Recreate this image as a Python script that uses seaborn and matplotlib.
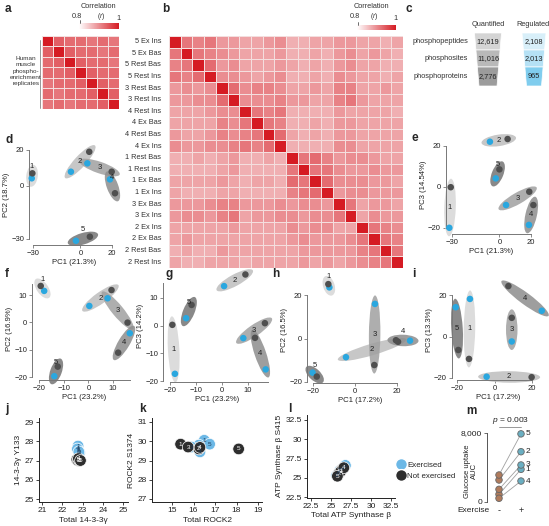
import numpy as np
import pandas as pd
import matplotlib
matplotlib.use("Agg")
import matplotlib.pyplot as plt
import seaborn as sns
from matplotlib.patches import Ellipse, Polygon
from matplotlib.colors import LinearSegmentedColormap, Normalize
from matplotlib.cm import ScalarMappable
from matplotlib.transforms import IdentityTransform
from matplotlib.lines import Line2D

# ---------------- data ----------------
# a: replicate correlation (hundredths, lower triangle)
a_lower = [
    [100],
    [94, 100],
    [93, 94, 100],
    [93, 93, 94, 100],
    [92, 93, 93, 94, 100],
    [93, 92, 93, 93, 94, 100],
    [92, 93, 92, 93, 93, 94, 100],
]

# b: sample correlation (hundredths, lower triangle)
b_labels = ["5 Ex Ins", "5 Ex Bas", "5 Rest Bas", "5 Rest Ins", "3 Rest Bas", "3 Rest Ins",
            "4 Rest Ins", "4 Ex Bas", "4 Rest Bas", "4 Ex Ins", "1 Rest Bas", "1 Rest Ins",
            "1 Ex Bas", "1 Ex Ins", "3 Ex Bas", "3 Ex Ins", "2 Ex Ins", "2 Ex Bas",
            "2 Rest Bas", "2 Rest Ins"]
b_lower = [
    [100],
    [92, 100],
    [91, 92, 100],
    [92, 91, 93, 100],
    [89, 90, 89, 90, 100],
    [89, 89, 90, 90, 93, 100],
    [88, 88, 88, 89, 90, 90, 100],
    [88, 88, 88, 88, 91, 90, 92, 100],
    [89, 88, 88, 89, 91, 90, 91, 92, 100],
    [90, 89, 89, 90, 90, 91, 92, 91, 93, 100],
    [87, 87, 88, 87, 88, 89, 87, 87, 88, 87, 100],
    [87, 87, 87, 87, 88, 89, 87, 87, 87, 87, 92, 100],
    [88, 88, 88, 88, 89, 88, 87, 88, 88, 87, 93, 92, 100],
    [88, 87, 87, 87, 88, 88, 87, 87, 87, 87, 91, 92, 93, 100],
    [89, 89, 89, 90, 91, 91, 89, 89, 89, 90, 89, 90, 90, 89, 100],
    [89, 90, 90, 89, 91, 92, 88, 89, 89, 90, 90, 89, 90, 90, 92, 100],
    [88, 88, 88, 88, 88, 89, 88, 88, 88, 88, 90, 89, 90, 90, 88, 88, 100],
    [88, 89, 88, 88, 88, 88, 88, 88, 88, 88, 89, 90, 89, 89, 89, 90, 92, 100],
    [87, 88, 87, 87, 89, 88, 88, 88, 88, 88, 88, 89, 89, 89, 89, 89, 91, 92, 100],
    [88, 87, 87, 88, 88, 88, 87, 88, 88, 88, 88, 89, 88, 89, 88, 89, 90, 91, 92, 100],
]

# c: counts
c_rows = ["phosphopeptides", "phosphosites", "phosphoproteins"]
c_quant = ["12,619", "11,016", "2,776"]
c_reg = ["2,108", "2,013", "965"]

subjects = [1, 2, 3, 4, 5]
# PCA panels: exercised (blue) and not exercised (dark) per subject 1..5
d_ex_x = [-30.8, -6.0, 4.4, 18.7, -2.8]
d_ex_y = [4.1, 7.8, 12.5, 3.5, -31.0]
d_no_x = [-30.4, 5.6, 19.8, 21.9, 6.0]
d_no_y = [6.9, 19.0, 7.8, -4.3, -28.7]

e_ex_x = [-31.7, -6.0, 4.2, 18.7, -2.3]
e_ex_y = [-19.9, 22.1, -8.8, -18.5, 4.2]
e_no_x = [-30.8, 5.2, 18.9, 21.5, 0.0]
e_no_y = [-0.1, 23.4, -2.3, -8.8, 8.6]

f_ex_x = [-17.9, 0.4, 7.8, 16.8, -13.8]
f_ex_y = [11.5, 6.0, 8.8, -4.0, -19.7]
f_no_x = [-19.3, 9.4, 15.9, 12.1, -12.4]
f_no_y = [13.3, 11.8, -0.1, -11.1, -16.2]

g_ex_x = [-18.1, 0.8, 8.2, 16.8, -13.8]
g_ex_y = [-17.4, 14.3, -4.5, -15.8, 2.7]
g_no_x = [-19.1, 9.0, 16.5, 12.7, -11.7]
g_no_y = [0.3, 18.5, 0.9, -4.4, 7.5]

h_ex_x = [-12.2, -4.3, 9.5, 26.2, -20.2]
h_ex_y = [23.5, -8.6, 15.9, -1.0, -15.7]
h_no_x = [-12.7, 20.5, 9.2, 19.5, -18.2]
h_no_y = [25.0, -1.5, -12.2, -0.8, -17.5]

i_ex_x = [-13.1, -4.2, 9.2, 25.2, -20.7]
i_ex_y = [18.1, -19.4, -2.4, 12.4, 14.1]
i_no_x = [-13.6, 19.8, 9.2, 7.4, -19.3]
i_no_y = [-10.8, -19.6, 9.0, 24.3, -6.5]

# j, k, l: total vs phospho
j_ex_x = [22.78, 22.80, 22.85, 22.75, 22.82]
j_ex_y = [27.75, 27.50, 27.40, 27.60, 27.45]
j_no_x = [22.72, 22.78, 22.85, 22.80, 22.90]
j_no_y = [27.05, 27.00, 27.00, 27.10, 27.00]

k_ex_x = [16.50, 16.25, 15.90, 16.30, 16.75]
k_ex_y = [30.05, 29.80, 29.70, 29.45, 29.85]
k_no_x = [15.40, 16.25, 15.75, 16.30, 18.10]
k_no_y = [29.85, 29.60, 29.70, 29.68, 29.60]

l_ex_x = [26.8, 26.1, 25.7, 26.5, 25.9]
l_ex_y = [26.6, 25.9, 25.3, 26.2, 25.5]
l_no_x = [26.3, 26.0, 26.2, 26.6, 25.8]
l_no_y = [26.0, 25.6, 25.8, 26.3, 25.2]

# m: glucose uptake AUC
m_pre = [890, 2550, 1470, 430, 3130]
m_post = [3790, 5830, 4290, 2430, 7900]

# ---------------- style ----------------
W, H = 549, 526
sns.set_style("ticks")
plt.rcParams["font.family"] = ["Liberation Sans", "DejaVu Sans"]
plt.rcParams["mathtext.fontset"] = "custom"
plt.rcParams["mathtext.it"] = "Liberation Sans:italic"
plt.rcParams["mathtext.rm"] = "Liberation Sans"

blue = "#2aa7df"
dark = "#4f4f4f"
ell_colors = ["#d6d6d6", "#bdbdbd", "#a0a0a0", "#8d8d8d", "#747474"]
cmap = LinearSegmentedColormap.from_list("wr", ["#ffffff", "#d51b23"])

fig = plt.figure(figsize=(W / 100, H / 100), dpi=100)


def px(l, t, r, b):
    return [l / W, 1 - b / H, (r - l) / W, (b - t) / H]


def box_from(xa, ya, xlim, ylim):
    sx = (xa[3] - xa[1]) / (xa[2] - xa[0])
    sy = (ya[3] - ya[1]) / (ya[2] - ya[0])
    l = xa[1] + (xlim[0] - xa[0]) * sx
    r = xa[1] + (xlim[1] - xa[0]) * sx
    t = ya[1] + (ylim[1] - ya[0]) * sy
    b = ya[1] + (ylim[0] - ya[0]) * sy
    return px(l, t, r, b)


def full(lower):
    n = len(lower)
    m = np.zeros((n, n))
    for i, row in enumerate(lower):
        for j, v in enumerate(row):
            m[i, j] = v / 100
            m[j, i] = v / 100
    return m


def letter(x, y, s):
    fig.text(x / W, 1 - y / H, s, fontsize=8.5, fontweight="bold", va="top", ha="left")


def corr_bar(l, t, r, b, cx, ty):
    cax = fig.add_axes(px(l, t, r, b))
    cb = fig.colorbar(ScalarMappable(norm=Normalize(0.8, 1), cmap=cmap), cax=cax,
                      orientation="horizontal")
    cb.outline.set_visible(False)
    cax.set_xticks([])
    fig.text(cx / W, 1 - ty / H, "Correlation", fontsize=5.3, ha="center", va="center", color="#333")
    fig.text((cx + 3) / W, 1 - (ty + 9) / H, "($r$)", fontsize=5, ha="center", va="center", color="#333")
    fig.text((l - 2) / W, 1 - (ty + 10) / H, "0.8", fontsize=5.3, ha="center", va="center", color="#333")
    fig.text((r - 1) / W, 1 - (ty + 12) / H, "1", fontsize=5.3, ha="center", va="center", color="#333")
    fig.add_artist(Line2D([(l + 1) / W, (l + 1) / W], [1 - (t - 3) / H, 1 - t / H], color="#333", lw=0.5))


# ---------------- a ----------------
letter(5, 3, "a")
ax_a = fig.add_axes(px(42, 36, 119, 109))
sns.heatmap(full(a_lower), ax=ax_a, cmap=cmap, vmin=0.8, vmax=1, cbar=False,
            linewidths=0.6, linecolor="#f4dede", xticklabels=False, yticklabels=False)
corr_bar(79, 23, 119, 29, 98, 7)
fig.add_artist(Line2D([40 / W, 40 / W], [1 - 40 / H, 1 - 108 / H], color="#888", lw=0.6))
fig.text(26 / W, 1 - 71 / H, "Human\nmuscle\nphospho-\nenrichment\nreplicates", fontsize=4.6,
         ha="center", va="center", linespacing=1.35, color="#333")

# ---------------- b ----------------
letter(162, 3, "b")
ax_b = fig.add_axes(px(169, 36, 403, 268))
sns.heatmap(full(b_lower), ax=ax_b, cmap=cmap, vmin=0.8, vmax=1, cbar=False,
            linewidths=0.5, linecolor="#f4dede", xticklabels=False, yticklabels=b_labels)
ax_b.tick_params(left=False, labelsize=5.3, pad=2, labelcolor="#333")
ax_b.set_yticklabels(b_labels, rotation=0)
corr_bar(357, 25, 396, 30, 371, 7)

# ---------------- c ----------------
letter(405, 3, "c")
ax_c = fig.add_axes(px(400, 0, 549, 140))
ax_c.set_xlim(400, 549)
ax_c.set_ylim(140, 0)
ax_c.axis("off")
tops = [33, 50, 67]
bots = [50, 67, 86]
q_cols = ["#d4d4d4", "#b9b9b9", "#9c9c9c"]
r_cols = ["#d8eff9", "#b5e1f5", "#80cdee"]


def hw(y, w0):
    return w0 - (y - 33) / 53 * 4.5


for k in range(3):
    t, b = tops[k], bots[k]
    for cx, w0, col in [(488, 13.5, q_cols[k]), (534, 12, r_cols[k])]:
        ax_c.add_patch(Polygon([[cx - hw(t, w0), t], [cx + hw(t, w0), t],
                                [cx + hw(b, w0), b], [cx - hw(b, w0), b]],
                               closed=True, facecolor=col, edgecolor="white", lw=0.5))
    yc = (t + b) / 2
    ax_c.text(468, yc, c_rows[k], fontsize=5.3, ha="right", va="center", color="#333")
    ax_c.text(488, yc, c_quant[k], fontsize=5.3, ha="center", va="center", color="#222")
    ax_c.text(534, yc, c_reg[k], fontsize=5.3, ha="center", va="center", color="#222")
ax_c.text(488, 24, "Quantified", fontsize=5.3, ha="center", va="center", color="#333")
ax_c.text(533, 24, "Regulated", fontsize=5.3, ha="center", va="center", color="#333")


# ---------------- PCA panels ----------------
def pca_panel(xa, ya, xlim, ylim, xb, yb, xticks, yticks, ex_x, ex_y, no_x, no_y, xlabel, ylabel):
    ax = fig.add_axes(box_from(xa, ya, xlim, ylim))
    ax.set_xlim(xlim)
    ax.set_ylim(ylim)
    for s in range(5):
        p1 = ax.transData.transform((ex_x[s], ex_y[s]))
        p2 = ax.transData.transform((no_x[s], no_y[s]))
        c = (p1 + p2) / 2
        dx, dy = p2 - p1
        dist = np.hypot(dx, dy)
        ang = np.degrees(np.arctan2(dy, dx))
        ax.add_patch(Ellipse(c, width=dist + 17, height=11.5, angle=ang, transform=IdentityTransform(),
                             facecolor=ell_colors[s], edgecolor="none", alpha=0.85, zorder=1,
                             clip_on=False))
        lab = c.copy()
        if dist < 16:
            lab = lab + np.array([0.0, 9.0])
        ax.text(lab[0], lab[1], str(subjects[s]), transform=IdentityTransform(), fontsize=5.5,
                ha="center", va="center", color="#222", zorder=4)
    df = pd.DataFrame({"x": ex_x + no_x, "y": ex_y + no_y,
                       "group": ["Exercised"] * 5 + ["Not exercised"] * 5})
    sns.scatterplot(data=df, x="x", y="y", hue="group", palette={"Exercised": blue, "Not exercised": dark},
                    s=22, linewidth=0, legend=False, ax=ax, zorder=3, clip_on=False)
    sns.despine(ax=ax)
    ax.spines["left"].set_bounds(*yb)
    ax.spines["bottom"].set_bounds(*xb)
    for sp in ["left", "bottom"]:
        ax.spines[sp].set_color("#777")
        ax.spines[sp].set_linewidth(0.7)
    ax.set_xticks(xticks)
    ax.set_yticks(yticks)
    ax.tick_params(labelsize=5.5, length=2, width=0.6, color="#777", labelcolor="#222", pad=1.5)
    ax.set_xlabel(xlabel, fontsize=5.6, labelpad=1.5, color="#222")
    ax.set_ylabel(ylabel, fontsize=5.6, labelpad=1, color="#222")
    ax.patch.set_alpha(0)
    return ax


letter(5, 134, "d")
pca_panel((-30, 33, 20, 112), (20, 150, -30, 239), (-32.5, 24), (-33.4, 23), (-30, 20), (-30, 20),
          [-30, 0, 20], [-30, 0, 20], d_ex_x, d_ex_y, d_no_x, d_no_y, "PC1 (21.3%)", "PC2 (18.7%)")
letter(412, 132, "e")
pca_panel((-30, 452, 20, 531), (20, 146, -20, 228), (-34, 24), (-22.9, 25), (-30, 20), (-20, 20),
          [-30, 0, 20], [-20, 0, 20], e_ex_x, e_ex_y, e_no_x, e_no_y, "PC1 (21.3%)", "PC3 (14.54%)")
letter(5, 268, "f")
pca_panel((-20, 39, 10, 113), (10, 295, -20, 377), (-22.8, 19), (-21.1, 16), (-20, 17), (-20, 14),
          [-20, -10, 0, 10], [-20, -10, 0, 10], f_ex_x, f_ex_y, f_no_x, f_no_y, "PC1 (23.2%)", "PC2 (16.9%)")
letter(165, 268, "g")
pca_panel((-20, 170, 10, 248), (10, 298, -20, 381), (-22.7, 19), (-20.4, 20), (-20, 17.5), (-20, 15.5),
          [-20, -10, 0, 10], [-20, -10, 0, 10], g_ex_x, g_ex_y, g_no_x, g_no_y, "PC1 (23.2%)", "PC3 (14.2%)")
letter(272, 268, "h")
pca_panel((-20, 313, 20, 397), (20, 295, -20, 382), (-22.9, 28), (-20.5, 28), (-20, 20), (-20, 20),
          [-20, 0, 20], [-20, 0, 20], h_ex_x, h_ex_y, h_no_x, h_no_y, "PC1 (17.2%)", "PC2 (16.5%)")
letter(412, 268, "i")
pca_panel((-20, 457, 20, 532), (20, 295, -20, 378), (-22.8, 27), (-21, 27), (-20, 20), (-20, 20),
          [-20, 0, 20], [-20, 0, 20], i_ex_x, i_ex_y, i_no_x, i_no_y, "PC1 (17.2%)", "PC3 (13.3%)")

# ---------------- j, k, l ----------------
blue2 = "#6cb8e6"
dark2 = "#2e2e2e"


def pair_panel(xa, ya, xlim, ylim, xticks, yticks, xtl, ytl, ex_x, ex_y, no_x, no_y, xlabel, ylabel):
    ax = fig.add_axes(box_from(xa, ya, xlim, ylim))
    df = pd.DataFrame({"x": ex_x + no_x, "y": ex_y + no_y,
                       "group": ["Exercised"] * 5 + ["Not exercised"] * 5})
    sns.scatterplot(data=df, x="x", y="y", hue="group", palette={"Exercised": blue2, "Not exercised": dark2},
                    s=70, linewidth=0.5, edgecolor="white", legend=False, ax=ax, zorder=3)
    for s in range(5):
        ax.text(ex_x[s], ex_y[s], str(subjects[s]), fontsize=4.6, ha="center", va="center",
                color="#1d3c5c", zorder=5)
        ax.text(no_x[s], no_y[s], str(subjects[s]), fontsize=4.6, ha="center", va="center",
                color="white", zorder=5)
    ax.set_xlim(xlim)
    ax.set_ylim(ylim)
    ax.set_xticks(xticks)
    ax.set_yticks(yticks)
    ax.set_xticklabels(xtl)
    ax.set_yticklabels(ytl)
    sns.despine(ax=ax)
    for sp in ["left", "bottom"]:
        ax.spines[sp].set_color("#222")
        ax.spines[sp].set_linewidth(0.7)
    ax.tick_params(labelsize=6, length=2, width=0.6, color="#222", labelcolor="#222", pad=1.5)
    ax.set_xlabel(xlabel, fontsize=6, labelpad=2, color="#222")
    ax.set_ylabel(ylabel, fontsize=6, labelpad=2, color="#222")
    return ax


letter(5, 403, "j")
pair_panel((21, 42, 25, 123), (29, 422, 25, 499), (20.85, 25.25), (24.85, 29.2),
           [21, 22, 23, 24, 25], [25, 26, 27, 28, 29], ["21", "22", "23", "24", "25"],
           ["25", "26", "27", "28", "29"], j_ex_x, j_ex_y, j_no_x, j_no_y, "Total 14-3-3γ", "14-3-3γ Y133")
letter(139, 403, "k")
pair_panel((15, 172, 19, 258), (31, 422, 27, 499), (14.07, 19.2), (26.84, 31.2),
           [15, 16, 17, 18, 19], [27, 28, 29, 30, 31], ["15", "16", "17", "18", "19"],
           ["27", "28", "29", "30", "31"], k_ex_x, k_ex_y, k_no_x, k_no_y, "Total ROCK2", "ROCK2 S1374")
letter(288, 403, "l")
lt = ["22.5", "25", "27.5", "30", "32.5"]
pair_panel((22.5, 311, 32.5, 391), (32.5, 420, 22.5, 497), (22.0, 33.0), (22.4, 33.2),
           [22.5, 25, 27.5, 30, 32.5], [22.5, 25, 27.5, 30, 32.5], lt, lt,
           l_ex_x, l_ex_y, l_no_x, l_no_y, "Total ATP Synthase β", "ATP Synthase β S415")

handles = [Line2D([], [], marker="o", ls="", markersize=8.5, markerfacecolor=blue2, markeredgecolor="white"),
           Line2D([], [], marker="o", ls="", markersize=8.5, markerfacecolor=dark2, markeredgecolor="white")]
fig.legend(handles, ["Exercised", "Not exercised"], loc="upper left", frameon=False,
           bbox_to_anchor=(397 / W, 1 - 461 / H), fontsize=5.7, handletextpad=0.15,
           labelspacing=0.5, borderaxespad=0, borderpad=0, handlelength=1.1)

# ---------------- m ----------------
letter(466, 405, "m")
ax_m = fig.add_axes(box_from((0, 499, 1, 521), (8000, 433, 0, 502), (-0.55, 1.6), (-150, 8800)))
df_m = pd.DataFrame({"subject": subjects * 2, "pos": [0] * 5 + [1] * 5, "auc": m_pre + m_post,
                     "exercise": ["-"] * 5 + ["+"] * 5})
sns.lineplot(data=df_m, x="pos", y="auc", units="subject", estimator=None, color="#a0a0a0",
             lw=0.6, ax=ax_m, zorder=1)
sns.scatterplot(data=df_m, x="pos", y="auc", hue="exercise", palette={"-": "#b07b5c", "+": "#6aafc2"},
                s=22, linewidth=0.6, edgecolor="#666", legend=False, ax=ax_m, zorder=3)
for s in range(5):
    ax_m.text(1.2, m_post[s], str(subjects[s]), fontsize=6, ha="left", va="center", color="#222")
ax_m.set_xlim(-0.55, 1.6)
ax_m.set_ylim(-150, 8800)
ax_m.set_xticks([0, 1])
ax_m.set_xticklabels(["-", "+"])
ax_m.set_yticks([0, 8000])
ax_m.set_yticklabels(["0", "8,000"])
sns.despine(ax=ax_m, bottom=True)
ax_m.spines["left"].set_bounds(0, 8000)
ax_m.spines["left"].set_color("#555")
ax_m.spines["left"].set_linewidth(0.7)
ax_m.tick_params(axis="y", labelsize=6, length=2, width=0.6, color="#555", labelcolor="#222", pad=1.5)
ax_m.tick_params(axis="x", labelsize=6.5, length=0, labelcolor="#222", pad=2)
ax_m.set_xlabel("")
ax_m.set_ylabel("Glucose uptake\nAUC", fontsize=5.5, color="#222", linespacing=1.05)
ax_m.yaxis.set_label_coords(-0.19, 0.42)
ax_m.plot([0, 1], [8650, 8650], color="#888", lw=0.6, clip_on=False)
ax_m.text(0.5, 8800, "$p$ = 0.003", fontsize=6, ha="center", va="bottom", color="#222")
fig.text(490 / W, 1 - 510 / H, "Exercise", fontsize=6, ha="right", va="center", color="#222")

fig.savefig("out.png", dpi=100)
